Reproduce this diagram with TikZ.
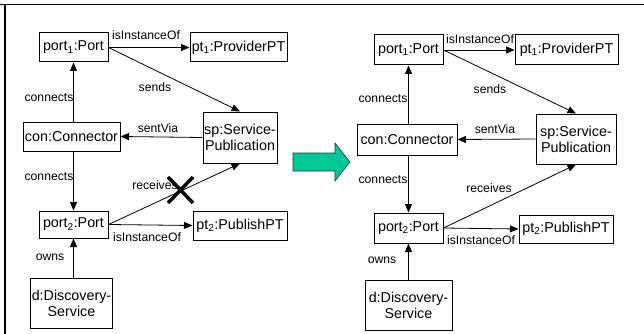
\documentclass[tikz,border=0pt]{standalone}
\usepackage{fontspec}
\setmainfont{Liberation Sans}
\usetikzlibrary{arrows.meta}
\definecolor{arrowgreen}{HTML}{00C896}
\tikzset{
  obj/.style={draw, line width=1pt, inner sep=1pt, align=center,
    font=\fontsize{14.3}{16}\selectfont},
  lbl/.style={inner sep=0pt, font=\fontsize{12.2}{13}\selectfont},
  rel/.style={line width=0.8pt, -{Triangle[length=8.5pt,width=7pt]}},
  xmark/.style={line width=3.5pt},
  frameline/.style={line width=1.4pt}
}
\begin{document}
\begin{tikzpicture}[x=1pt,y=-1pt]
\useasboundingbox (0,0) rectangle (644,334);
% frame
\draw[frameline] (0,4.5) -- (644,4.5);
\draw[frameline] (5,4.5) -- (5,334);

% ---------- left model ----------
\node[obj, minimum width=69pt, minimum height=29pt] (Lp1) at (73.5,47.5) {port\textsubscript{1}:Port};
\node[obj, minimum width=97pt, minimum height=29pt] (Lpt1) at (238.5,47.5) {pt\textsubscript{1}:ProviderPT};
\node[obj, minimum width=74pt, minimum height=51pt] (Lsp) at (240,137.5) {sp:Service-\\Publication};
\node[obj, minimum width=97pt, minimum height=29pt] (Lcon) at (71.5,136.5) {con:Connector};
\node[obj, minimum width=69pt, minimum height=27pt] (Lp2) at (73.5,224.5) {port\textsubscript{2}:Port};
\node[obj, minimum width=94pt, minimum height=29pt] (Lpt2) at (240,225.5) {pt\textsubscript{2}:PublishPT};
\node[obj, minimum width=81pt, minimum height=50pt] (Ld) at (71.5,303) {d:Discovery-\\Service};

\draw[rel] (Lp1.east) -- (Lpt1.west);
\draw[rel] (Lp1.east) -- (Lsp.north);
\draw[rel] (Lp1.south |- Lcon.north) -- (Lp1.south);
\draw[rel] (Lsp.west) -- (Lcon.east);
\draw[rel] (Lp2.north |- Lcon.south) -- (Lp2.north);
\draw[rel] (Lp2.east) -- (Lsp.south);
\draw[rel] (Lp2.east) -- (Lpt2.west);
\draw[rel] (Lp2.south |- Ld.north) -- (Lp2.south);

\node[lbl] (La) at (146,35) {isInstanceOf};
\node[lbl] (Lb) at (155,87) {sends};
\node[lbl] (Lc) at (49,98) {connects};
\node[lbl] (Ld2) at (158,128) {sentVia};
\node[lbl] (Le) at (49,177) {connects};
\node[lbl] (Lf) at (155,185) {receives};
\node[lbl] (Lg) at (147,237) {isInstanceOf};
\node[lbl] (Lh) at (50,257) {owns};

% crossed-out relation
\draw[xmark] (168,177) -- (193,203);
\draw[xmark] (193,177) -- (168,203);

% ---------- transformation arrow ----------
\draw[fill=arrowgreen, draw=black!80, line width=0.6pt]
  (293,153) -- (335,153) -- (335,143) -- (350,162) -- (335,181) -- (335,171) -- (293,171) -- cycle;

% ---------- right model ----------
\node[obj, minimum width=69pt, minimum height=30pt] (Rp1) at (408.5,50) {port\textsubscript{1}:Port};
\node[obj, minimum width=103pt, minimum height=30pt] (Rpt1) at (566.5,50) {pt\textsubscript{1}:ProviderPT};
\node[obj, minimum width=80pt, minimum height=50pt] (Rsp) at (576,139) {sp:Service-\\Publication};
\node[obj, minimum width=100pt, minimum height=31pt] (Rcon) at (407,139.5) {con:Connector};
\node[obj, minimum width=69pt, minimum height=30pt] (Rp2) at (408.5,228) {port\textsubscript{2}:Port};
\node[obj, minimum width=94pt, minimum height=28pt] (Rpt2) at (566,229) {pt\textsubscript{2}:PublishPT};
\node[obj, minimum width=87pt, minimum height=50pt] (Rd) at (408.5,305) {d:Discovery-\\Service};

\draw[rel] (Rp1.east) -- (Rpt1.west);
\draw[rel] (Rp1.east) -- (Rsp.north);
\draw[rel] (Rp1.south |- Rcon.north) -- (Rp1.south);
\draw[rel] (Rsp.west) -- (Rcon.east);
\draw[rel] (Rp2.north |- Rcon.south) -- (Rp2.north);
\draw[rel] (Rp2.east) -- (Rsp.south);
\draw[rel] (Rp2.east) -- (Rpt2.west);
\draw[rel] (Rp2.south |- Rd.north) -- (Rp2.south);

\node[lbl] (Ra) at (480,39) {isInstanceOf};
\node[lbl] (Rb) at (490,89) {sends};
\node[lbl] (Rc) at (383,99) {connects};
\node[lbl] (Rd2) at (495,129) {sentVia};
\node[lbl] (Re) at (383,180) {connects};
\node[lbl] (Rf) at (489,188) {receives};
\node[lbl] (Rg) at (481,240) {isInstanceOf};
\node[lbl] (Rh) at (382,260) {owns};
\end{tikzpicture}
\end{document}
